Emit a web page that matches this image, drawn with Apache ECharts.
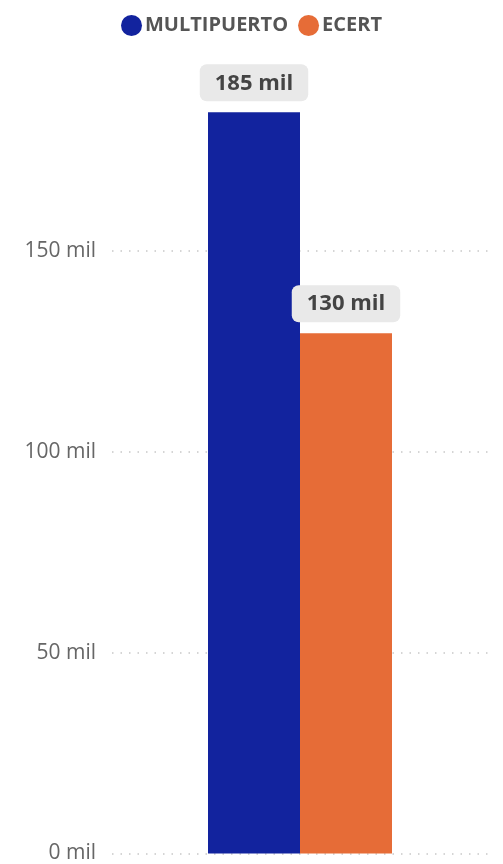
<!DOCTYPE html>
<html><head><meta charset="utf-8">
<script src="https://cdn.jsdelivr.net/npm/echarts@6/dist/echarts.min.js"></script>
<style>html,body{margin:0;padding:0;background:#fff}#c{width:503px;height:864px}</style>
</head><body><div id="c"></div>
<script>
const categories = [''];
const seriesNames = ['MULTIPUERTO', 'ECERT'];
const multipuerto = [184.5];
const ecert = [129.5];
const yTicks = [0, 50, 100, 150, 200];
const colors = ['#12239E', '#E66C37'];

const chart = echarts.init(document.getElementById('c'), null, {renderer: 'canvas'});
const labelCfg = {
  show: true, position: 'top', distance: 11,
  formatter: p => Math.round(p.value) + ' mil',
  fontFamily: 'Open Sans', fontWeight: 'bold', fontSize: 22, color: '#444',
  backgroundColor: '#e9e9e9', borderRadius: 7, padding: [8, 15, 7, 15]
};
chart.setOption({
  animation: false,
  color: colors,
  legend: {
    top: 10, left: 'center', icon: 'circle', itemWidth: 21, itemHeight: 21, itemGap: 10,
    textStyle: {fontFamily: 'Open Sans', fontWeight: 'bold', fontSize: 20, color: '#555', padding: [0, 0, 0, -2]},
    data: seriesNames
  },
  grid: {left: 112, right: 15, top: 50, bottom: 8},
  xAxis: {
    type: 'category', data: categories,
    axisLine: {show: false}, axisTick: {show: false}, axisLabel: {show: false}
  },
  yAxis: {
    type: 'value', min: yTicks[0], max: yTicks[yTicks.length - 1], interval: 50,
    axisLine: {show: false}, axisTick: {show: false},
    axisLabel: {
      showMaxLabel: false, margin: 16,
      formatter: v => v + ' mil',
      fontFamily: 'Open Sans', fontSize: 21, color: '#666'
    },
    splitLine: {lineStyle: {color: ['#c8c8c8', '#c8c8c8', '#c8c8c8', '#c8c8c8', 'rgba(0,0,0,0)'], type: [1.5, 7], width: 1.5}}
  },
  series: [
    {name: seriesNames[0], type: 'bar', data: multipuerto, barWidth: 92, barGap: '0%', label: labelCfg},
    {name: seriesNames[1], type: 'bar', data: ecert, barWidth: 92, barGap: '0%', label: labelCfg}
  ]
});
</script></body></html>
